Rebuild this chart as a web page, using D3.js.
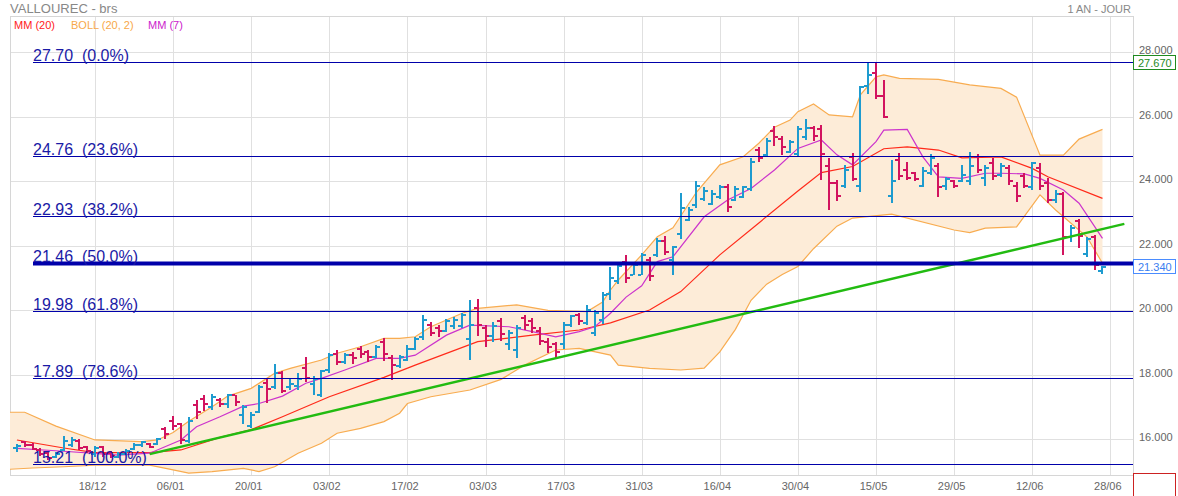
<!DOCTYPE html>
<html>
<head>
<meta charset="utf-8">
<script src="https://cdn.jsdelivr.net/npm/d3@7"></script>
<style>
  body { margin: 0; background: #fff; }
  svg { display: block; font-family: "Liberation Sans", Arial, sans-serif; }
</style>
</head>
<body>
<svg width="1178" height="496"></svg>
<script>
// bar index 0 = 18/12, one step per trading day
var firstDay = -10;

var opens = [
  15.71, 15.90, 15.82, 15.66, 15.58, 15.45, 15.65, 15.80, 15.95, 15.75,
  15.55, 15.75, 15.58, 15.45, 15.55, 15.70, 15.80, 15.85, 15.85, 16.30,
  16.55, 16.45, 15.95, 17.05, 17.25, 17.00, 17.22, 17.10, 17.35, 16.75,
  16.40, 16.85, 17.75, 17.60, 18.05, 17.60, 17.65, 18.20, 17.70, 17.35,
  18.15, 18.65, 18.40, 18.60, 18.80, 18.70, 18.55, 19.00, 18.50, 18.25,
  18.45, 18.80, 19.15, 19.55, 19.45, 19.35, 19.50, 19.50, 19.10, 20.05,
  19.45, 19.20, 19.65, 18.95, 18.75, 19.75, 19.65, 19.35, 19.00, 18.95,
  18.95, 19.55, 19.85, 19.60, 19.30, 19.70, 20.50, 20.90, 21.50, 21.10,
  21.10, 21.55, 21.70, 22.15, 21.55, 22.35, 22.80, 23.25, 23.45, 23.30,
  23.50, 23.80, 23.40, 23.50, 23.75, 24.95, 24.80, 25.55, 25.30, 24.90,
  24.85, 25.35, 25.65, 25.60, 24.45, 23.95, 23.85, 24.75, 23.85, 26.95,
  27.35, 26.65, 23.55, 24.65, 24.35, 24.25, 23.85, 24.25, 24.45, 23.85,
  24.00, 24.00, 24.00, 24.75, 24.10, 24.55, 24.20, 24.40, 23.85, 24.15,
  23.80, 24.40, 23.95, 23.40, 23.60, 22.25, 22.75, 21.75, 22.25, 21.20
];
var highs = [
  15.85, 15.94, 15.87, 15.71, 15.61, 15.60, 16.09, 16.05, 15.99, 15.78,
  15.78, 15.78, 15.62, 15.60, 15.68, 15.87, 15.94, 15.87, 16.04, 16.38,
  16.71, 16.50, 16.69, 17.20, 17.35, 17.40, 17.28, 17.40, 17.35, 17.05,
  16.85, 17.67, 17.88, 18.33, 18.12, 17.85, 18.04, 18.55, 17.95, 18.14,
  18.68, 18.76, 18.66, 18.71, 18.88, 18.76, 18.91, 19.12, 18.60, 18.60,
  18.91, 19.17, 19.84, 19.64, 19.53, 19.71, 19.79, 19.90, 20.31, 20.33,
  19.53, 19.64, 19.74, 19.38, 19.53, 19.84, 19.74, 19.48, 19.12, 19.02,
  19.64, 19.84, 19.90, 20.15, 19.99, 20.57, 21.32, 21.50, 21.71, 21.50,
  21.78, 21.63, 22.22, 22.29, 21.98, 23.62, 23.18, 24.01, 23.80, 23.72,
  23.88, 23.90, 23.84, 23.84, 24.72, 25.05, 25.32, 25.71, 25.40, 25.27,
  25.71, 25.91, 25.71, 25.74, 24.70, 24.03, 24.50, 24.86, 26.95, 27.67,
  27.67, 27.13, 24.65, 24.86, 24.60, 24.29, 24.44, 24.84, 24.55, 24.13,
  24.03, 24.50, 24.91, 24.84, 24.50, 24.70, 24.57, 24.50, 23.98, 24.24,
  24.60, 24.55, 24.08, 23.72, 23.67, 22.64, 22.81, 22.27, 22.33, 21.36
];
var lows = [
  15.60, 15.74, 15.64, 15.45, 15.35, 15.40, 15.61, 15.74, 15.64, 15.56,
  15.45, 15.45, 15.40, 15.40, 15.48, 15.66, 15.76, 15.71, 15.81, 16.02,
  16.28, 15.85, 15.87, 16.62, 16.85, 16.90, 17.00, 16.97, 17.00, 16.45,
  16.36, 16.80, 17.11, 17.54, 17.44, 17.50, 17.52, 17.78, 17.36, 17.29,
  18.06, 18.29, 18.33, 18.35, 18.50, 18.40, 18.50, 18.40, 17.81, 18.19,
  18.40, 18.76, 19.07, 19.22, 19.17, 19.30, 19.43, 19.43, 18.45, 19.17,
  18.86, 19.02, 19.02, 18.76, 18.50, 19.38, 19.28, 18.91, 18.66, 18.50,
  18.81, 19.48, 19.53, 19.53, 19.17, 19.59, 20.31, 20.83, 20.85, 21.09,
  21.09, 20.88, 21.63, 21.71, 21.09, 22.19, 22.74, 23.18, 23.36, 23.26,
  23.46, 23.02, 23.36, 23.46, 23.70, 24.60, 24.75, 25.09, 24.81, 24.86,
  24.78, 25.27, 25.25, 24.03, 23.08, 23.39, 23.78, 23.98, 23.67, 26.72,
  26.56, 25.94, 23.31, 24.03, 24.03, 24.01, 23.82, 24.19, 23.51, 23.74,
  23.77, 23.98, 23.88, 24.24, 23.84, 24.03, 24.13, 23.88, 23.36, 23.77,
  23.72, 23.72, 23.31, 23.31, 21.71, 22.12, 21.91, 21.65, 21.24, 21.12
];
var closes = [
  15.78, 15.80, 15.70, 15.52, 15.42, 15.55, 15.95, 15.98, 15.72, 15.62,
  15.72, 15.55, 15.48, 15.55, 15.62, 15.82, 15.90, 15.75, 16.00, 16.15,
  16.40, 15.98, 16.55, 16.85, 17.10, 17.30, 17.10, 17.35, 17.15, 17.00,
  16.75, 17.60, 17.55, 18.05, 17.50, 17.70, 17.85, 17.90, 17.85, 18.10,
  18.60, 18.40, 18.60, 18.50, 18.65, 18.55, 18.85, 18.65, 18.30, 18.55,
  18.80, 19.10, 19.70, 19.30, 19.35, 19.65, 19.70, 19.85, 19.55, 19.55,
  19.20, 19.50, 19.25, 19.30, 19.45, 19.55, 19.45, 19.05, 18.85, 18.70,
  19.55, 19.80, 19.65, 20.00, 19.90, 20.45, 21.00, 21.35, 21.00, 21.40,
  21.70, 21.05, 22.15, 21.80, 21.95, 23.15, 23.10, 23.85, 23.70, 23.60,
  23.80, 23.20, 23.75, 23.80, 24.60, 24.70, 25.25, 25.35, 25.05, 25.20,
  25.60, 25.65, 25.40, 24.85, 23.95, 23.55, 24.35, 24.05, 26.90, 27.30,
  26.65, 26.00, 24.00, 24.15, 24.10, 24.05, 24.30, 24.70, 23.80, 24.05,
  23.85, 24.20, 24.45, 24.35, 24.40, 24.15, 24.45, 24.00, 23.55, 23.85,
  24.55, 23.85, 23.40, 23.60, 22.25, 22.55, 22.30, 22.20, 21.40, 21.34
];

// indicator lines at the listed bar indices
var ma20Days = [-10, -4, 0, 7, 11, 16, 20, 24, 30, 37, 41, 49, 56, 62, 66, 71, 75, 80, 85, 90, 93, 97, 101, 104, 108, 111, 116, 120, 122, 129];
var ma20 = [15.97, 15.72, 15.58, 15.58, 15.66, 16.05, 16.29, 16.69, 17.31, 17.91, 18.29, 19.02, 19.22, 19.38, 19.60, 20.00, 20.57, 21.71, 22.70, 23.69, 24.26, 24.45, 25.00, 25.06, 24.96, 24.72, 24.75, 24.39, 24.13, 23.46];

var ma7Days = [-10, -4, 3, 7, 11, 13, 16, 19, 21, 24, 27, 29, 32, 36, 39, 41, 45, 48, 53, 56, 59, 62, 64, 66, 68, 70, 72, 74, 78, 81, 84, 87, 90, 93, 95, 97, 100, 101, 104, 106, 108, 111, 114, 116, 119, 121, 124, 126, 129];
var ma7 = [15.71, 15.62, 15.50, 15.56, 15.97, 16.38, 16.69, 17.02, 17.10, 17.33, 17.73, 17.88, 18.14, 18.50, 18.50, 18.60, 19.22, 19.53, 19.48, 19.33, 19.17, 19.33, 19.48, 19.90, 20.40, 20.75, 21.50, 21.65, 22.89, 23.41, 23.77, 24.34, 25.01, 25.27, 24.81, 24.50, 25.22, 25.58, 25.60, 24.75, 24.13, 24.08, 24.24, 24.24, 24.22, 24.08, 23.72, 23.31, 22.22];

var bollUpDays = [-11, -9, -5, 0, 6, 8, 10, 12, 15, 17, 20, 22, 23, 25, 29, 31, 34, 37, 39, 41, 43, 45, 47, 49, 54, 58, 63, 65, 66, 67, 70, 72, 74, 77, 80, 83, 85, 87, 89, 90, 92, 94, 97, 98, 100, 101, 103, 108, 112, 116, 118, 121, 124, 126, 129];
var bollUp = [16.83, 16.83, 16.40, 15.97, 15.92, 15.97, 16.20, 16.55, 17.00, 17.33, 17.57, 17.88, 18.04, 18.19, 18.45, 18.66, 18.86, 19.12, 19.12, 19.17, 19.48, 19.69, 19.90, 20.05, 20.16, 19.99, 19.95, 20.25, 20.62, 20.93, 21.71, 22.27, 22.55, 23.65, 24.50, 24.75, 25.17, 25.67, 25.89, 26.15, 26.39, 26.05, 25.99, 26.67, 27.23, 27.29, 27.18, 27.15, 26.98, 26.87, 26.60, 24.80, 24.80, 25.30, 25.60];

var bollLowDays = [-11, -8, -4, 0, 7, 10, 12, 15, 19, 21, 23, 26, 29, 31, 34, 37, 39, 40, 43, 48, 52, 55, 59, 62, 66, 67, 71, 75, 78, 80, 82, 84, 86, 88, 90, 92, 95, 97, 102, 110, 112, 114, 118, 121, 123, 127, 129];
var bollLow = [15.06, 15.10, 15.14, 15.19, 15.19, 15.04, 14.94, 14.99, 15.09, 14.99, 15.14, 15.56, 15.87, 16.18, 16.33, 16.54, 16.80, 17.10, 17.31, 17.52, 17.85, 18.29, 18.76, 18.81, 18.60, 18.29, 18.19, 18.14, 18.20, 18.70, 19.40, 20.30, 20.80, 21.10, 21.35, 21.90, 22.60, 22.85, 22.97, 22.48, 22.40, 22.54, 22.58, 23.57, 23.10, 22.27, 21.45];

// support line drawn by hand on the chart
var trendDays = [7, 131.8];
var trendValues = [15.53, 22.67];

var fibLevels = [27.70, 24.76, 22.93, 21.46, 19.98, 17.89, 15.21];
var fibPcts = ['0.0%', '23.6%', '38.2%', '50.0%', '61.8%', '78.6%', '100.0%'];

var priceTicks = [16, 18, 20, 22, 24, 26, 28];
var dateTicks = [0, 10, 20, 30, 40, 50, 60, 70, 80, 90, 100, 110, 120, 130];
var dateLabels = ['18/12', '06/01', '20/01', '03/02', '17/02', '03/03', '17/03', '31/03', '16/04', '30/04', '15/05', '29/05', '12/06', '28/06'];

var highMark = 27.67;
var lastMark = 21.34;

var plotL = 10, plotR = 1133, plotT = 16, plotB = 475;
var upColor = '#1e9bcf', downColor = '#d2145f';

var svg = d3.select('svg');

var x = d3.scaleLinear().domain([0, 130]).range([95, 1110.3]);
var y = d3.scaleLinear().domain([16, 28]).range([439, 52]);

svg.append('clipPath').attr('id', 'plot-clip')
  .append('rect')
  .attr('x', plotL).attr('y', plotT)
  .attr('width', plotR - plotL).attr('height', plotB - plotT);

// grid
var grid = svg.append('g');
grid.selectAll('line.v').data(dateTicks).enter().append('line')
  .attr('x1', function(d) { return Math.round(x(d)) + 0.5; })
  .attr('x2', function(d) { return Math.round(x(d)) + 0.5; })
  .attr('y1', plotT).attr('y2', plotB)
  .attr('stroke', '#e0e0e0');
grid.selectAll('line.h').data(priceTicks).enter().append('line')
  .attr('x1', plotL).attr('x2', plotR)
  .attr('y1', function(d) { return Math.round(y(d)) + 0.5; })
  .attr('y2', function(d) { return Math.round(y(d)) + 0.5; })
  .attr('stroke', '#e0e0e0');
svg.append('rect')
  .attr('x', plotL + 0.5).attr('y', plotT + 0.5)
  .attr('width', plotR - plotL).attr('height', plotB - plotT)
  .attr('fill', 'none').attr('stroke', '#d6d6d6');

var plot = svg.append('g').attr('clip-path', 'url(#plot-clip)');

// bollinger band
function pts(days, vals) {
  return days.map(function(d, k) { return [x(d), y(vals[k])]; });
}
var upPts = pts(bollUpDays, bollUp);
var lowPts = pts(bollLowDays, bollLow);
plot.append('path')
  .attr('d', d3.line()(upPts.concat(lowPts.slice().reverse())) + 'Z')
  .attr('fill', '#fdecd8');
[upPts, lowPts].forEach(function(p) {
  plot.append('path')
    .attr('d', d3.line()(p))
    .attr('fill', 'none')
    .attr('stroke', '#f8ac50')
    .attr('stroke-width', 1.2);
});

// moving averages
plot.append('path')
  .attr('d', d3.line()(pts(ma20Days, ma20)))
  .attr('fill', 'none').attr('stroke', '#ff2a1a').attr('stroke-width', 1.2);
plot.append('path')
  .attr('d', d3.line()(pts(ma7Days, ma7)))
  .attr('fill', 'none').attr('stroke', '#cc33cc').attr('stroke-width', 1.2);

// ohlc bars
var bars = plot.selectAll('g.bar')
  .data(d3.range(closes.length))
  .enter().append('g')
  .attr('fill', function(k) { return closes[k] >= opens[k] ? upColor : downColor; });

bars.append('rect')
  .attr('x', function(k) { return Math.round(x(firstDay + k)) - 1; })
  .attr('y', function(k) { return Math.round(y(highs[k])); })
  .attr('width', 2)
  .attr('height', function(k) { return Math.max(2, Math.round(y(lows[k]) - y(highs[k]))); });
bars.append('rect')
  .attr('x', function(k) { return Math.round(x(firstDay + k)) - 4; })
  .attr('y', function(k) { return Math.round(y(opens[k])) - 1; })
  .attr('width', 3).attr('height', 2);
bars.append('rect')
  .attr('x', function(k) { return Math.round(x(firstDay + k)) + 1; })
  .attr('y', function(k) { return Math.round(y(closes[k])) - 1; })
  .attr('width', 3).attr('height', 2);

// trend line
plot.append('line')
  .attr('x1', x(trendDays[0])).attr('y1', y(trendValues[0]))
  .attr('x2', x(trendDays[1])).attr('y2', y(trendValues[1]))
  .attr('stroke', '#22bb11').attr('stroke-width', 2.5);

// fibonacci retracement
var fib = svg.append('g');
fib.selectAll('line').data(fibLevels).enter().append('line')
  .attr('x1', 33).attr('x2', plotR)
  .attr('y1', function(d) { return Math.round(y(d)) + 0.5; })
  .attr('y2', function(d) { return Math.round(y(d)) + 0.5; })
  .attr('stroke', '#0000aa')
  .attr('stroke-width', function(d, k) { return k === 3 ? 4 : 1.2; });
fib.selectAll('text').data(fibLevels).enter().append('text')
  .attr('x', 33)
  .attr('y', function(d) { return Math.round(y(d)) - 1; })
  .attr('fill', '#1a1aa6')
  .style('font-size', '16px')
  .style('white-space', 'pre')
  .text(function(d, k) { return d.toFixed(2) + '  (' + fibPcts[k] + ')'; });

// axes
var yAxis = svg.append('g')
  .attr('transform', 'translate(' + plotR + ',0)')
  .call(d3.axisRight(y).tickValues(priceTicks).tickFormat(d3.format('.3f')).tickSize(0).tickPadding(6));
yAxis.select('.domain').remove();
yAxis.selectAll('text')
  .attr('dy', '0.14em')
  .attr('fill', '#666')
  .style('font-size', '11px')
  .style('font-family', '"Liberation Sans", Arial, sans-serif');

var xAxis = svg.append('g')
  .attr('transform', 'translate(-3,' + plotB + ')')
  .call(d3.axisBottom(x).tickValues(dateTicks)
    .tickFormat(function(d, k) { return dateLabels[k]; }).tickSize(0).tickPadding(7));
xAxis.select('.domain').remove();
xAxis.selectAll('text')
  .attr('fill', '#666')
  .style('font-size', '11px')
  .style('font-family', '"Liberation Sans", Arial, sans-serif');

// price boxes on the axis
function priceBox(v, stroke, color) {
  var cy = Math.round(y(v));
  svg.append('rect')
    .attr('x', plotR + 0.5).attr('y', cy - 7.5)
    .attr('width', 42).attr('height', 14)
    .attr('fill', '#fff').attr('stroke', stroke);
  svg.append('text')
    .attr('x', plotR + 5).attr('y', cy + 4)
    .attr('fill', color)
    .style('font-size', '11px')
    .text(v.toFixed(3));
}
priceBox(highMark, '#1f8a1f', '#1f8a1f');
priceBox(lastMark, '#4a8cff', '#3a7ef0');
svg.append('rect')
  .attr('x', plotR + 0.5).attr('y', plotB - 1.5)
  .attr('width', 42).attr('height', 30)
  .attr('fill', '#fff').attr('stroke', '#cc2222');

// header
svg.append('text').attr('x', 10).attr('y', 13)
  .attr('fill', '#888').style('font-size', '13px')
  .text('VALLOUREC - brs');
svg.append('text').attr('x', 1131).attr('y', 13)
  .attr('text-anchor', 'end')
  .attr('fill', '#888').style('font-size', '11px')
  .text('1 AN - JOUR');

var legend = [
  { x: 14, text: 'MM (20)', color: '#ff2222' },
  { x: 71, text: 'BOLL (20, 2)', color: '#f8a848' },
  { x: 148, text: 'MM (7)', color: '#cc22cc' }
];
svg.selectAll('text.legend').data(legend).enter().append('text')
  .attr('class', 'legend')
  .attr('x', function(d) { return d.x; })
  .attr('y', 29)
  .attr('fill', function(d) { return d.color; })
  .style('font-size', '11px')
  .text(function(d) { return d.text; });
</script>
</body>
</html>
